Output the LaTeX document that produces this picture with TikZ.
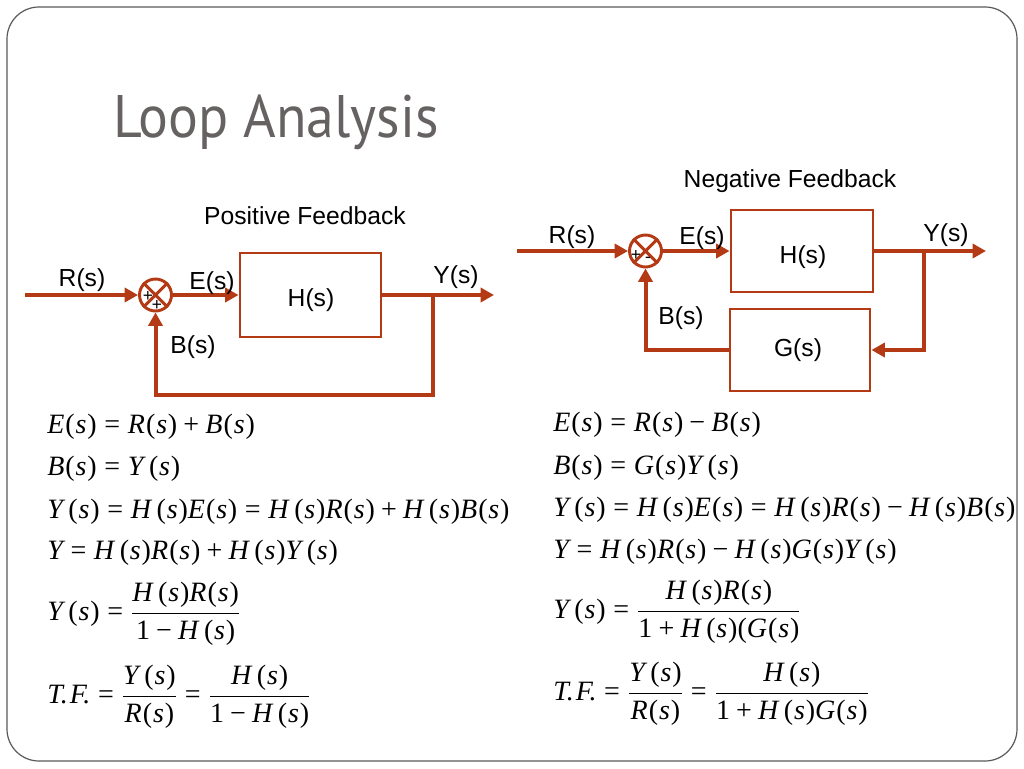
\documentclass[tikz,border=0pt]{standalone}
\usepackage{fontspec}
\setmainfont{Liberation Sans}
\newfontfamily\tmfont{Liberation Serif}
\newfontfamily\titlefont[FakeStretch=0.93]{PT Sans}
\usetikzlibrary{arrows.meta}
\definecolor{rust}{RGB}{180,58,22}
\definecolor{titlegray}{RGB}{102,98,98}
\definecolor{framegray}{RGB}{90,90,90}
\newcommand\fsx[1]{\mbox{\tmfont\itshape #1\kern0.04em\upshape(\kern0.03em\itshape s\kern0.03em\upshape)}}
\newcommand\fsw[1]{\mbox{\tmfont\itshape #1\kern0.2em\upshape(\kern0.03em\itshape s\kern0.03em\upshape)}}
\newcommand\ivar[1]{\mbox{\tmfont\itshape #1}}
\newcommand\rom[1]{\mbox{\tmfont #1}}
\newcommand\eqq{\mathrel{\mbox{\tmfont =}}}
\newcommand\plusx{\mathbin{\mbox{\tmfont +}}}
\newcommand\minusx{\mathbin{\mbox{\tmfont −}}}
\begin{document}
\begin{tikzpicture}[x=0.75pt,y=-0.75pt,
  sig/.style={draw=rust,line width=3pt,-{Triangle[length=10pt,width=10.5pt]}},
  blk/.style={draw=rust,line width=2.2pt,rectangle,inner sep=0pt},
  sumj/.style={draw=rust,line width=2.2pt,circle,minimum size=24pt,inner sep=0pt},
  lbl/.style={font=\fontsize{18.5}{22}\selectfont,inner sep=0pt},
  sgn/.style={font=\fontsize{13}{13}\selectfont,inner sep=0pt},
  eq/.style={font=\fontsize{21}{25}\selectfont\tmfont,inner sep=0pt}]
\useasboundingbox (0,0) rectangle (1024,768);
\fill[white] (0,0) rectangle (1024,768);
\draw[framegray,line width=0.9pt,rounded corners=24pt] (7,7) rectangle (1017,761);

% title
\node[anchor=base west,inner sep=0pt,text=titlegray,font=\titlefont\fontsize{45}{52}\selectfont] (title) at (113,137) {Loop Analysis};

% ---------- positive feedback ----------
\node[lbl] (ptitle) at (305,216) {Positive Feedback};
\node[sumj] (s1) at (155.5,295) {};
\draw[rust,line width=2.2pt] (s1.north west) -- (s1.south east) (s1.north east) -- (s1.south west);
\node[blk,minimum width=105.75pt,minimum height=63pt] (h1) at (310.5,295) {};
\node[lbl] (h1t) at (311,300) {H(s)};
\coordinate (r1) at (25,295);
\coordinate (y1) at (494,295);
\coordinate (t1) at (433,295);
\coordinate (c1) at (433,395);
\draw[sig] (r1) -- (s1.west);
\draw[sig] (s1.east) -- (h1.west);
\draw[sig] (h1.east) -- (y1);
\draw[sig] (t1) -- (c1) -| (s1.south);
\node[lbl] (r1t) at (82,280) {R(s)};
\node[lbl] (e1t) at (212,283) {E(s)};
\node[lbl] (b1t) at (193,347) {B(s)};
\node[lbl] (y1t) at (456,277) {Y(s)};
\node[sgn] (p1a) at (148,296) {+};
\node[sgn] (p1b) at (157,305) {+};

% ---------- negative feedback ----------
\node[lbl] (ntitle) at (790,181) {Negative Feedback};
\node[sumj] (s2) at (645.5,251) {};
\draw[rust,line width=2.2pt] (s2.north west) -- (s2.south east) (s2.north east) -- (s2.south west);
\node[blk,minimum width=106.5pt,minimum height=61.5pt] (h2) at (802,251) {};
\node[blk,minimum width=105pt,minimum height=61.5pt] (g2) at (800,350) {};
\node[lbl] (h2t) at (803,257) {H(s)};
\node[lbl] (g2t) at (798,350) {G(s)};
\coordinate (r2) at (517,251);
\coordinate (y2) at (986,251);
\coordinate (t2) at (924,251);
\draw[sig] (r2) -- (s2.west);
\draw[sig] (s2.east) -- (h2.west);
\draw[sig] (h2.east) -- (y2);
\draw[sig] (t2) |- (g2.east);
\draw[sig] (g2.west) -| (s2.south);
\node[lbl] (r2t) at (572,237) {R(s)};
\node[lbl] (e2t) at (702,238) {E(s)};
\node[lbl] (b2t) at (681,318) {B(s)};
\node[lbl] (y2t) at (946,235) {Y(s)};
\node[sgn] (p2a) at (636,255) {+};
\node[sgn] (m2a) at (648,260) {-};

% ---------- equations left ----------
\node[eq,anchor=base west] (l1) at (47,433) {$\fsx{E}\eqq\fsx{R}\plusx\fsx{B}$};
\node[eq,anchor=base west] (l2) at (47,475) {$\fsx{B}\eqq\fsw{Y}$};
\node[eq,anchor=base west] (l3) at (47,518) {$\fsw{Y}\eqq\fsw{H}\fsx{E}\eqq\fsw{H}\fsx{R}\plusx\fsw{H}\fsx{B}$};
\node[eq,anchor=base west] (l4) at (47,559) {$\ivar{Y}\eqq\fsw{H}\fsx{R}\plusx\fsw{H}\fsw{Y}$};
\node[eq,anchor=west] (l5) at (47,614) {$\displaystyle\fsw{Y}\eqq\frac{\fsw{H}\fsx{R}}{\rom{1}\minusx\fsw{H}}$};
\node[eq,anchor=west] (l6) at (47,697) {$\displaystyle\ivar{T.\kern0.08em F.}\eqq\frac{\fsw{Y}}{\fsx{R}}\eqq\frac{\fsw{H}}{\rom{1}\minusx\fsw{H}}$};

% ---------- equations right ----------
\node[eq,anchor=base west] (q1) at (553,431) {$\fsx{E}\eqq\fsx{R}\minusx\fsx{B}$};
\node[eq,anchor=base west] (q2) at (553,474) {$\fsx{B}\eqq\fsx{G}\fsw{Y}$};
\node[eq,anchor=base west] (q3) at (553,516) {$\fsw{Y}\eqq\fsw{H}\fsx{E}\eqq\fsw{H}\fsx{R}\minusx\fsw{H}\fsx{B}$};
\node[eq,anchor=base west] (q4) at (553,558) {$\ivar{Y}\eqq\fsw{H}\fsx{R}\minusx\fsw{H}\fsx{G}\fsw{Y}$};
\node[eq,anchor=west] (q5) at (553,612) {$\displaystyle\fsw{Y}\eqq\frac{\fsw{H}\fsx{R}}{\rom{1}\plusx\fsw{H}\rom{(}\fsx{G}}$};
\node[eq,anchor=west] (q6) at (553,694) {$\displaystyle\ivar{T.\kern0.08em F.}\eqq\frac{\fsw{Y}}{\fsx{R}}\eqq\frac{\fsw{H}}{\rom{1}\plusx\fsw{H}\fsx{G}}$};
\end{tikzpicture}
\end{document}
